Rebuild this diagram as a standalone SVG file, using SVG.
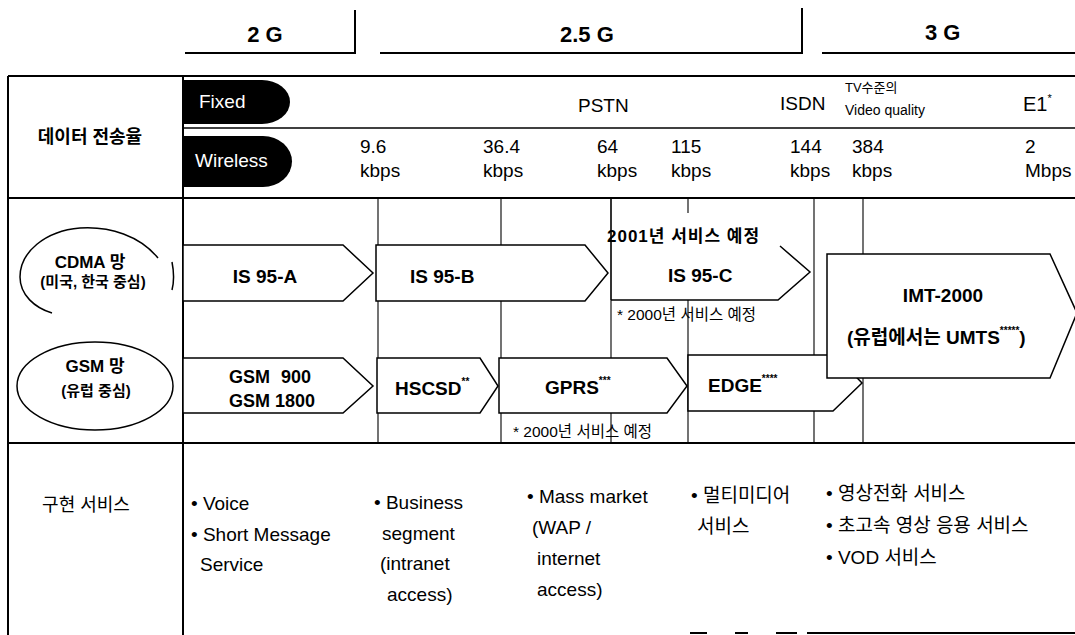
<svg xmlns="http://www.w3.org/2000/svg" width="1075" height="635" viewBox="0 0 1075 635">
<style>
.ln{stroke:#000;stroke-width:2;fill:none}
.md{stroke:#000;stroke-width:1.5;fill:none}
.th{stroke:#000;stroke-width:1.1;fill:none}
.sh{fill:#fff;stroke:#000;stroke-width:1.5;stroke-linejoin:miter}
.t{font-family:"Liberation Sans","Noto Sans CJK KR",sans-serif;fill:#000}
.b{font-weight:bold}
.lbl{font-size:19px;font-weight:bold}
.sup{font-size:10px;font-weight:bold}
.val{font-size:19px}
.svc{font-size:19px}
</style>
<rect x="0" y="0" width="1075" height="635" fill="#fff"/>

<g id="header">
  <path class="ln" d="M185,53 H355 V10"/>
  <path class="ln" d="M380,53 H802 V8"/>
  <path class="ln" d="M822,53 H1075"/>
  <text class="t b" x="265" y="42" font-size="22" text-anchor="middle">2 G</text>
  <text class="t b" x="560" y="42" font-size="22">2.5 G</text>
  <text class="t b" x="925" y="40" font-size="22">3 G</text>
</g>

<g id="table">
  <path class="ln" d="M8,76 H1075"/>
  <path class="ln" d="M8,76 V635"/>
  <path class="ln" d="M183,76 V635"/>
  <path class="md" d="M183,128 H1075"/>
  <path class="ln" d="M8,198 H1075"/>
  <path class="ln" d="M8,443 H1075"/>
  <path class="ln" d="M690,633 H707 M735,633 H748 M776,633 H797 M807,633 H1075"/>
  <g id="grid">
    <path class="th" d="M378,198 V443 M501,198 V443 M611,198 V443 M688,198 V443 M814,198 V443 M863,198 V443"/>
  </g>
</g>

<g id="data-rate">
  <text class="t b" x="90" y="143" font-size="18" text-anchor="middle">데이터 전송율</text>
  <g id="fixed">
    <path d="M183,80 H262 A28,22 0 0 1 262,124 H183 Z" fill="#000"/>
    <text class="t" x="199" y="108" font-size="19" style="fill:#fff">Fixed</text>
  </g>
  <g id="wireless">
    <path d="M183,136 H263 A29,25.5 0 0 1 263,187 H183 Z" fill="#000"/>
    <text class="t" x="195" y="167" font-size="19" style="fill:#fff">Wireless</text>
  </g>
  <text class="t val" x="578" y="112">PSTN</text>
  <text class="t val" x="780" y="110">ISDN</text>
  <text class="t" x="845" y="92" font-size="13">TV수준의</text>
  <text class="t" x="845" y="115" font-size="14">Video quality</text>
  <text class="t" x="1023" y="111" font-size="20">E1<tspan font-size="11" dy="-9">*</tspan></text>
  <g class="t val">
    <text x="360" y="153">9.6</text><text x="360" y="177">kbps</text>
    <text x="483" y="153">36.4</text><text x="483" y="177">kbps</text>
    <text x="597" y="153">64</text><text x="597" y="177">kbps</text>
    <text x="671" y="153">115</text><text x="671" y="177">kbps</text>
    <text x="790" y="153">144</text><text x="790" y="177">kbps</text>
    <text x="852" y="153">384</text><text x="852" y="177">kbps</text>
    <text x="1025" y="153">2</text><text x="1025" y="177">Mbps</text>
  </g>
</g>

<g id="cdma-label">
  <path class="md" d="M158,258 C140,236 110,226 80,228 C45,231 20,252 20,277 C20,295 35,308 52,313"/>
  <path class="md" d="M172,262 C174,272 174,282 172,290"/>
  <text class="t b" x="90" y="268" font-size="17" text-anchor="middle">CDMA 망</text>
  <text class="t b" x="93" y="287" font-size="15" text-anchor="middle">(미국, 한국 중심)</text>
</g>

<g id="gsm-label">
  <ellipse class="md" cx="95" cy="386" rx="78" ry="44"/>
  <text class="t b" x="95" y="372" font-size="17" text-anchor="middle">GSM 망</text>
  <text class="t b" x="96" y="396" font-size="15" text-anchor="middle">(유럽 중심)</text>
</g>

<g id="is95a">
  <polygon class="sh" points="183,245 343,245 373,273 343,301 183,301"/>
  <text class="t lbl" x="265" y="283" text-anchor="middle">IS 95-A</text>
</g>
<g id="is95b">
  <polygon class="sh" points="376,245 585,245 608,273 585,301 376,301"/>
  <text class="t lbl" x="410" y="283">IS 95-B</text>
</g>
<g id="is95c">
  <polygon points="612,213 780,213 780,246 810,272 778,300 612,300" fill="#fff"/>
  <path class="md" d="M780,246 L810,272 L778,300 H611"/>
  <path class="th" d="M611,198 V300"/>
  <text class="t b" x="607" y="242" font-size="17" letter-spacing="1">2001년 서비스 예정</text>
  <text class="t lbl" x="668" y="282">IS 95-C</text>
  <text class="t" x="617" y="320" font-size="15.5">* 2000년 서비스 예정</text>
</g>
<g id="gsm900">
  <polygon class="sh" points="183,358 343,358 373,386 343,413 183,413"/>
  <text class="t b" x="229" y="383" font-size="18">GSM</text>
  <text class="t b" x="311" y="383" font-size="18" text-anchor="end">900</text>
  <text class="t b" x="229" y="407" font-size="18">GSM 1800</text>
</g>
<g id="hscsd">
  <polygon class="sh" points="377,358 480,358 498,386 480,413 377,413"/>
  <text class="t lbl" x="395" y="395">HSCSD<tspan class="sup" dy="-10">**</tspan></text>
</g>
<g id="gprs">
  <polygon class="sh" points="499,358 667,358 687,386 667,413 499,413"/>
  <text class="t lbl" x="545" y="394">GPRS<tspan class="sup" dy="-10">***</tspan></text>
  <text class="t" x="513" y="437" font-size="15.5">* 2000년 서비스 예정</text>
</g>
<g id="edge">
  <polygon class="sh" points="688,355 835,355 862,383 833,411 688,411"/>
  <text class="t lbl" x="708" y="392">EDGE<tspan class="sup" dy="-10">****</tspan></text>
</g>
<g id="imt2000">
  <polygon class="sh" points="827,254 1050,254 1077,313 1050,378 827,378"/>
  <text class="t lbl" x="943" y="302" text-anchor="middle">IMT-2000</text>
  <text class="t b" x="847" y="344" font-size="19">(유럽에서는 UMTS<tspan class="sup" dy="-10">*****</tspan><tspan dy="10">)</tspan></text>
</g>

<g id="services">
  <text class="t" x="86" y="511" font-size="18" text-anchor="middle">구현 서비스</text>
  <g class="t svc">
    <text x="191" y="510">• Voice</text>
    <text x="191" y="541">• Short Message</text>
    <text x="200" y="571">Service</text>
    <text x="374" y="509">• Business</text>
    <text x="382" y="540">segment</text>
    <text x="380" y="570">(intranet</text>
    <text x="387" y="601">access)</text>
    <text x="527" y="503">• Mass market</text>
    <text x="532" y="534">(WAP /</text>
    <text x="537" y="565">internet</text>
    <text x="537" y="596">access)</text>
    <text x="691" y="502">• 멀티미디어</text>
    <text x="697" y="533">서비스</text>
    <text x="826" y="500">• 영상전화 서비스</text>
    <text x="826" y="532">• 초고속 영상 응용  서비스</text>
    <text x="826" y="564">• VOD 서비스</text>
  </g>
</g>
<g id="connectors"/>
</svg>
